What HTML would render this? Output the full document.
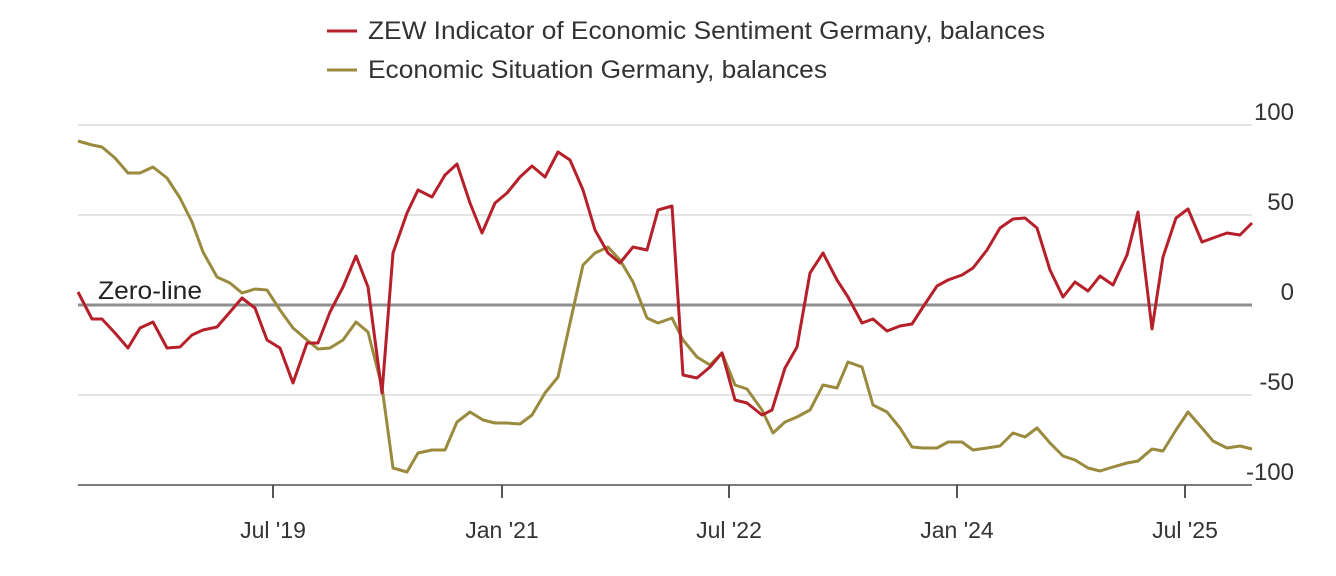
<!DOCTYPE html>
<html><head><meta charset="utf-8"><style>
html,body{margin:0;padding:0;background:#fff;}
svg{display:block;font-family:"Liberation Sans",Arial,sans-serif;}
</style></head><body>
<svg width="1336" height="576" viewBox="0 0 1336 576" xmlns="http://www.w3.org/2000/svg">
<g stroke="#e4e4e4" stroke-width="2">
<line x1="78" y1="125" x2="1252" y2="125"/>
<line x1="78" y1="215" x2="1252" y2="215"/>
<line x1="78" y1="395" x2="1252" y2="395"/>
</g>
<line x1="78" y1="305" x2="1252" y2="305" stroke="#8f8f8f" stroke-width="3"/>
<line x1="78" y1="485" x2="1252" y2="485" stroke="#7a7a7a" stroke-width="2"/>
<g stroke="#555" stroke-width="2">
<line x1="273" y1="485" x2="273" y2="498"/>
<line x1="502" y1="485" x2="502" y2="498"/>
<line x1="729" y1="485" x2="729" y2="498"/>
<line x1="957" y1="485" x2="957" y2="498"/>
<line x1="1185" y1="485" x2="1185" y2="498"/>
</g>
<g font-size="24" fill="#333" text-anchor="end">
<text x="1294" y="120">100</text>
<text x="1294" y="210">50</text>
<text x="1294" y="300">0</text>
<text x="1294" y="390">-50</text>
<text x="1294" y="480">-100</text>
</g>
<g font-size="23" fill="#333" text-anchor="middle">
<text x="273" y="538">Jul '19</text>
<text x="502" y="538">Jan '21</text>
<text x="729" y="538">Jul '22</text>
<text x="957" y="538">Jan '24</text>
<text x="1185" y="538">Jul '25</text>
</g>
<text x="98" y="299" font-size="25" fill="#222" textLength="104" lengthAdjust="spacingAndGlyphs">Zero-line</text>
<line x1="327" y1="31" x2="357" y2="31" stroke="#b5202a" stroke-width="3"/>
<text x="368" y="39" font-size="25" fill="#333" textLength="677" lengthAdjust="spacingAndGlyphs">ZEW Indicator of Economic Sentiment Germany, balances</text>
<line x1="327" y1="70" x2="357" y2="70" stroke="#9a8a3e" stroke-width="3"/>
<text x="368" y="78" font-size="25" fill="#333" textLength="459" lengthAdjust="spacingAndGlyphs">Economic Situation Germany, balances</text>
<polyline fill="none" stroke="#9a8a3e" stroke-width="3" stroke-linejoin="round" points="78,141 92,145 102,147 115,158 128,173 140,173 153,167 167,178 180,198 192,222 203,252 217,277 230,283 242,293 255,289 267,290 280,310 293,328 307,340 318,349 330,348 343,340 356,322 368,332 382,387 393,468 407,472 418,453 432,450 445,450 457,422 470,412 483,420 495,423 507,423 520,424 532,415 545,393 558,377 570,323 583,265 595,253 608,247 620,260 633,282 647,318 658,323 672,318 683,340 697,357 710,365 722,353 735,385 747,389 762,410 773,433 785,422 797,417 810,410 823,385 837,388 848,362 862,367 873,405 887,412 900,428 912,447 923,448 937,448 948,442 962,442 973,450 987,448 1000,446 1013,433 1025,437 1037,428 1050,443 1063,456 1075,460 1088,468 1100,471 1113,467 1127,463 1138,461 1152,449 1163,451 1176,430 1188,412 1202,428 1213,441 1227,448 1240,446 1252,449"/>
<polyline fill="none" stroke="#b5202a" stroke-width="3" stroke-linejoin="round" points="78,292 92,319 102,319 115,333 128,348 140,328 153,322 167,348 180,347 192,335 203,330 217,327 230,312 242,298 255,308 267,340 280,348 293,383 307,343 318,343 330,312 343,287 356,256 368,287 382,393 393,253 407,213 418,190 432,197 445,175 457,164 470,203 482,233 495,203 507,193 520,177 532,166 545,177 558,152 570,160 583,190 595,230 608,253 620,263 633,247 647,250 658,210 672,206 683,375 697,378 710,367 722,353 735,400 747,403 762,415 772,410 785,368 797,347 810,273 823,253 837,280 848,297 862,323 873,319 887,331 900,326 912,324 923,307 937,286 948,280 962,275 973,268 987,250 1000,228 1013,219 1025,218 1037,228 1050,270 1063,297 1075,282 1088,291 1100,276 1113,285 1127,255 1138,212 1152,329 1163,257 1176,218 1188,209 1202,242 1213,238 1227,233 1240,235 1252,223"/>
</svg>
</body></html>
